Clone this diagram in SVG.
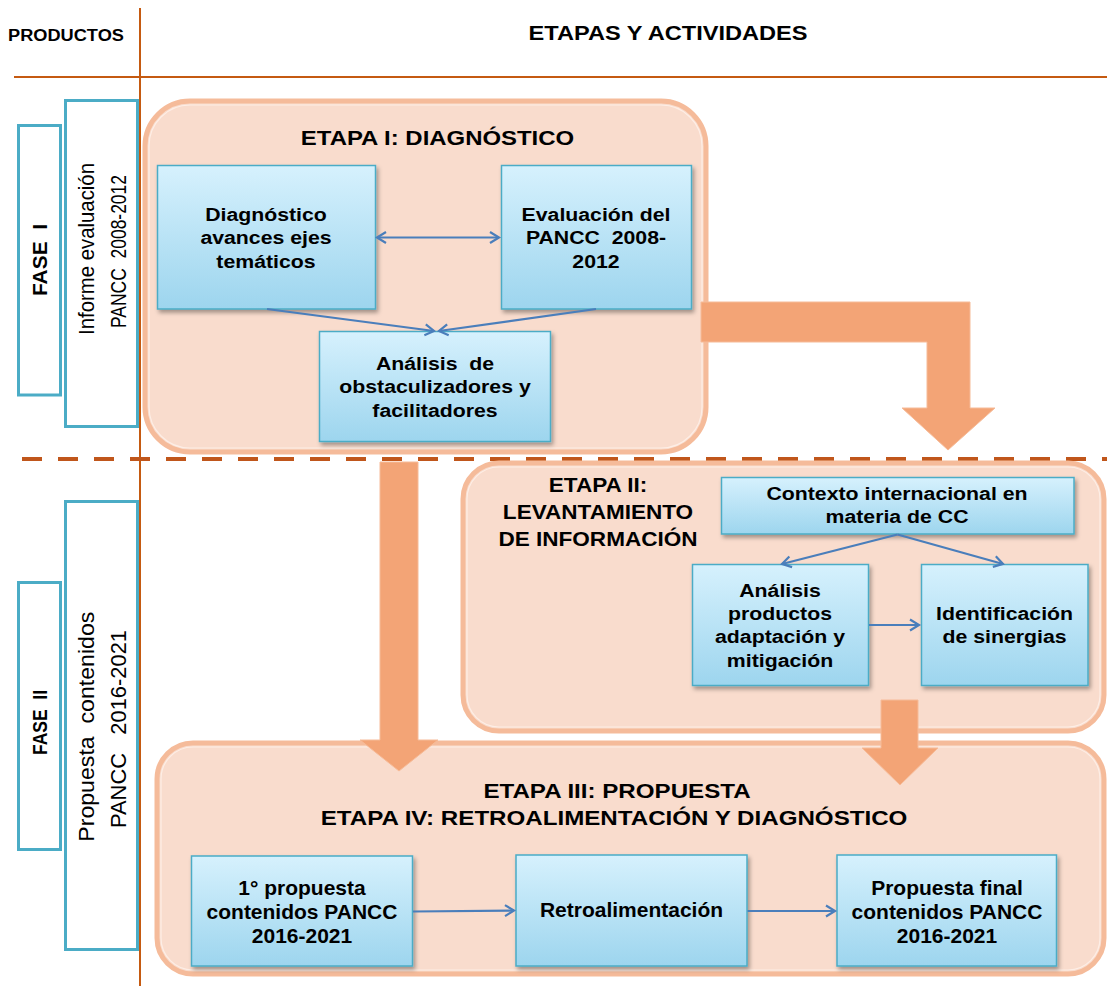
<svg xmlns="http://www.w3.org/2000/svg" width="1107" height="986" viewBox="0 0 1107 986">
<style>
text{font-family:"Liberation Sans",Arial,sans-serif;fill:#000;text-anchor:middle}
.b{font-weight:bold}
.t19{font-size:19px;font-weight:bold}
.t20{font-size:20px;font-weight:bold}
.ttl{font-size:21px;font-weight:bold}
.rot{font-size:22px}
.stage{fill:#f9dccd;stroke:#f5bb9a;stroke-width:5}
.stagein{fill:none;stroke:#fdeee6;stroke-width:1.2}
.box{fill:url(#bg);stroke:#4bacc6;stroke-width:1.5;filter:url(#sh)}
.side{fill:#fff;stroke:#4bacc6;stroke-width:3}
.big{fill:#f3a476;stroke:#f6bb98;stroke-width:1}
.con{stroke:#4a7ebb;stroke-width:2.2;fill:none;marker-end:url(#ah)}
.rule{stroke:#c55a11;stroke-width:2}
</style>
<defs>
<linearGradient id="bg" x1="0" y1="0" x2="0" y2="1">
<stop offset="0" stop-color="#d6f1fd"/>
<stop offset="1" stop-color="#9dd5ee"/>
</linearGradient>
<filter id="sh" x="-10%" y="-10%" width="130%" height="130%">
<feDropShadow dx="2" dy="3" stdDeviation="2" flood-color="#000" flood-opacity="0.35"/>
</filter>
<marker id="ah" markerUnits="userSpaceOnUse" markerWidth="14" markerHeight="14" refX="11" refY="7" orient="auto-start-reverse">
<path d="M2,1.5 L11,7 L2,12.5" fill="none" stroke="#4a7ebb" stroke-width="2.2"/>
</marker>
</defs>

<g id="header">
<line class="rule" x1="140" y1="8" x2="140" y2="986"/>
<line class="rule" x1="14" y1="77" x2="1107" y2="77"/>
<text class="b" font-size="17" transform="translate(66,40.5) scale(1.07,1)">PRODUCTOS</text>
<text class="b" font-size="20.5" transform="translate(668,40) scale(1.15,1)">ETAPAS Y ACTIVIDADES</text>
<line x1="22" y1="459" x2="1107" y2="459" stroke="#c0561b" stroke-width="4" stroke-dasharray="20 16"/>
</g>

<g id="fase1">
<rect class="side" x="18.5" y="125.5" width="42" height="269.5"/>
<text class="b" font-size="21" textLength="72" lengthAdjust="spacingAndGlyphs" transform="translate(46.5,260) rotate(-90)">FASE&#160;&#160;I</text>
</g>
<g id="informe">
<rect class="side" x="65.5" y="100.5" width="72" height="326"/>
<text class="rot" textLength="172" lengthAdjust="spacingAndGlyphs" transform="translate(93.5,249) rotate(-90)">Informe evaluación</text>
<text class="rot" textLength="153" lengthAdjust="spacingAndGlyphs" transform="translate(125.5,251.5) rotate(-90)">PANCC&#160;&#160;2008-2012</text>
</g>
<g id="fase2">
<rect class="side" x="18.5" y="582.5" width="42" height="267"/>
<text class="b" font-size="21" textLength="65" lengthAdjust="spacingAndGlyphs" transform="translate(46.5,722.5) rotate(-90)">FASE&#160;&#160;II</text>
</g>
<g id="propuesta">
<rect class="side" x="65.5" y="501.5" width="72" height="448"/>
<text class="rot" textLength="230" lengthAdjust="spacingAndGlyphs" transform="translate(93.5,726.7) rotate(-90)">Propuesta&#160;&#160;contenidos</text>
<text class="rot" textLength="198" lengthAdjust="spacingAndGlyphs" transform="translate(125.5,729) rotate(-90)">PANCC&#160;&#160;&#160;2016-2021</text>
</g>

<g id="etapa1">
<rect class="stage" x="145" y="101" width="561" height="351" rx="45"/>
<rect class="stagein" x="149" y="105" width="553" height="343" rx="41"/>
<text class="ttl" transform="translate(437.5,145) scale(1.14,1)">ETAPA I: DIAGNÓSTICO</text>
</g>
<g id="etapa2">
<rect class="stage" x="463" y="463" width="641" height="268" rx="36"/>
<rect class="stagein" x="467" y="467" width="633" height="260" rx="32"/>
<text class="b" font-size="20.5" transform="translate(598,492) scale(1.1,1)"><tspan x="0">ETAPA II:</tspan><tspan x="0" dy="27">LEVANTAMIENTO</tspan><tspan x="0" dy="27">DE INFORMACIÓN</tspan></text>
</g>
<g id="etapa3">
<rect class="stage" x="157" y="743" width="947" height="231" rx="36"/>
<rect class="stagein" x="161" y="747" width="939" height="223" rx="32"/>
<text class="ttl" transform="translate(617,798) scale(1.15,1)">ETAPA III: PROPUESTA</text>
<text class="ttl" transform="translate(614,825) scale(1.15,1)">ETAPA IV: RETROALIMENTACIÓN Y DIAGNÓSTICO</text>
</g>

<g id="big-arrows">
<polygon class="big" points="701,302 970,302 970,408 995,408 948,450 902,408 927,408 927,342 701,342"/>
<polygon class="big" points="380,462 418,462 418,740 438,740 399,771 360,740 380,740"/>
<polygon class="big" points="881,700 918,700 918,748 938,748 900,785 862,748 881,748"/>
</g>

<g id="n-diag">
<rect class="box" x="157.5" y="165.5" width="218" height="143.5"/>
<text class="t19" transform="translate(266,221) scale(1.12,1)"><tspan x="0">Diagnóstico</tspan><tspan x="0" dy="23.4">avances ejes</tspan><tspan x="0" dy="23.4">temáticos</tspan></text>
</g>
<g id="n-eval">
<rect class="box" x="501.5" y="165.5" width="190" height="143.5"/>
<text class="t19" transform="translate(596,221) scale(1.12,1)"><tspan x="0">Evaluación del</tspan><tspan x="0" dy="23.4">PANCC&#160;&#160;2008-</tspan><tspan x="0" dy="23.4">2012</tspan></text>
</g>
<g id="n-anal">
<rect class="box" x="319.5" y="331.5" width="231" height="110"/>
<text class="t19" transform="translate(435,370) scale(1.12,1)"><tspan x="0">Análisis&#160;&#160;de</tspan><tspan x="0" dy="23.4">obstaculizadores y</tspan><tspan x="0" dy="23.4">facilitadores</tspan></text>
</g>
<g id="n-contexto">
<rect class="box" x="721.5" y="477.5" width="352.5" height="56.5"/>
<text class="t19" transform="translate(897,500) scale(1.12,1)"><tspan x="0">Contexto internacional en</tspan><tspan x="0" dy="23.4">materia de CC</tspan></text>
</g>
<g id="n-productos">
<rect class="box" x="692.5" y="564.5" width="176" height="121"/>
<text class="t19" transform="translate(780,596.7) scale(1.12,1)"><tspan x="0">Análisis</tspan><tspan x="0" dy="23.4">productos</tspan><tspan x="0" dy="23.4">adaptación y</tspan><tspan x="0" dy="23.4">mitigación</tspan></text>
</g>
<g id="n-ident">
<rect class="box" x="921.5" y="564.5" width="166.5" height="121"/>
<text class="t19" transform="translate(1004.5,620) scale(1.12,1)"><tspan x="0">Identificación</tspan><tspan x="0" dy="23.4">de sinergias</tspan></text>
</g>
<g id="n-prop1">
<rect class="box" x="191.5" y="856" width="221" height="110"/>
<text class="t20" transform="translate(302,895) scale(1.05,1)"><tspan x="0">1° propuesta</tspan><tspan x="0" dy="24">contenidos PANCC</tspan><tspan x="0" dy="24">2016-2021</tspan></text>
</g>
<g id="n-retro">
<rect class="box" x="516" y="855" width="231" height="111"/>
<text class="t20" transform="translate(631.5,917) scale(1.05,1)">Retroalimentación</text>
</g>
<g id="n-final">
<rect class="box" x="837" y="855" width="219.5" height="111"/>
<text class="t20" transform="translate(947,895) scale(1.05,1)"><tspan x="0">Propuesta final</tspan><tspan x="0" dy="24">contenidos PANCC</tspan><tspan x="0" dy="24">2016-2021</tspan></text>
</g>

<g id="connectors">
<line class="con" x1="377" y1="237.5" x2="499" y2="237.5" marker-start="url(#ah)"/>
<line class="con" x1="267" y1="309" x2="434" y2="331"/>
<line class="con" x1="596" y1="309" x2="439" y2="331"/>
<line class="con" x1="897.5" y1="534.5" x2="782" y2="564"/>
<line class="con" x1="897.5" y1="534.5" x2="1003" y2="564"/>
<line class="con" x1="869" y1="625" x2="919" y2="625"/>
<line class="con" x1="413" y1="911.5" x2="514" y2="910.5"/>
<line class="con" x1="747.5" y1="911" x2="835" y2="911"/>
</g>
</svg>
